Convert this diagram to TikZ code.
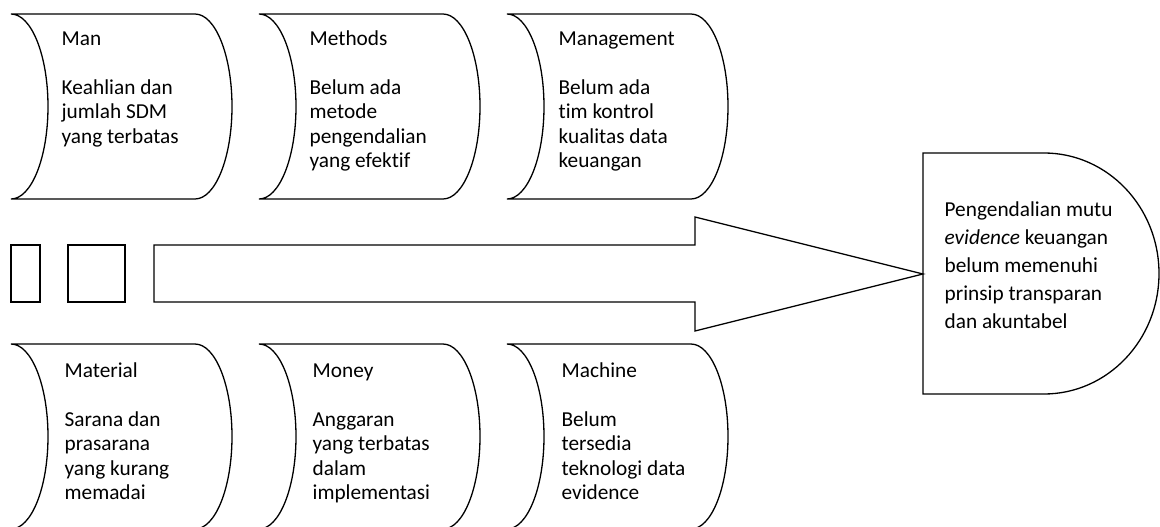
\documentclass[tikz,border=0pt]{standalone}
\usepackage{fontspec}
\setmainfont{Carlito}[Ligatures=NoCommon]
\begin{document}
\begin{tikzpicture}[x=1pt, y=-1pt, line width=1.3pt, line join=miter,
  factor/.style={anchor=base west, inner sep=0pt, align=left,
    font=\fontsize{21.3}{24.5}\selectfont},
  effect/.style={anchor=base west, inner sep=0pt, align=left,
    font=\fontsize{21.3}{28}\selectfont}]
  \useasboundingbox (0,0) rectangle (1160,527);
  \clip (0,0) rectangle (1160,527);

  % stored-data outline: left corner x, top y, bottom y
  \newcommand\datashape[3]{%
    \draw (#1,#2) -- ++(184,0)
      arc[start angle=90, end angle=-90, x radius=37pt, y radius=92.5pt]
      -- (#1,#3)
      arc[start angle=-90, end angle=90, x radius=37pt, y radius=92.5pt]
      -- cycle;}

  % upper row
  \datashape{11}{14}{199}
  \datashape{259}{14}{199}
  \datashape{507}{14}{199}
  % lower row
  \datashape{11}{344}{529}
  \datashape{259}{344}{529}
  \datashape{507}{344}{529}

  % spine: two blocks and the big arrow
  \draw (11,245) rectangle (40,302);
  \draw (68,245) rectangle (125,302);
  \draw (154,245) -- (695,245) -- (695,217) -- (923,274)
        -- (695,331) -- (695,302) -- (154,302) -- cycle;

  % effect box
  \draw (923,153) -- (1044,153)
    arc[start angle=90, end angle=-90, x radius=115pt, y radius=120.5pt]
    -- (923,394) -- cycle;

  % texts (anchored at the baseline of their last line)
  \node[factor] (man) at (61,143) {Man\\[24.5pt]Keahlian dan\\jumlah SDM\\yang terbatas};
  \node[factor] (methods) at (309,167.5) {Methods\\[24.5pt]Belum ada\\metode\\pengendalian\\yang efektif};
  \node[factor] (management) at (558,167.5) {Management\\[24.5pt]Belum ada\\tim kontrol\\kualitas data\\keuangan};
  \node[factor] (material) at (64,499.5) {Material\\[24.5pt]Sarana dan\\prasarana\\yang kurang\\memadai};
  \node[factor] (money) at (312,499.5) {Money\\[24.5pt]Anggaran\\yang terbatas\\dalam\\implementasi};
  \node[factor] (machine) at (561,499.5) {Machine\\[24.5pt]Belum\\tersedia\\teknologi data\\evidence};
  \node[effect] (result) at (944,328) {Pengendalian mutu\\\textit{evidence} keuangan\\belum memenuhi\\prinsip transparan\\dan akuntabel};
\end{tikzpicture}
\end{document}
